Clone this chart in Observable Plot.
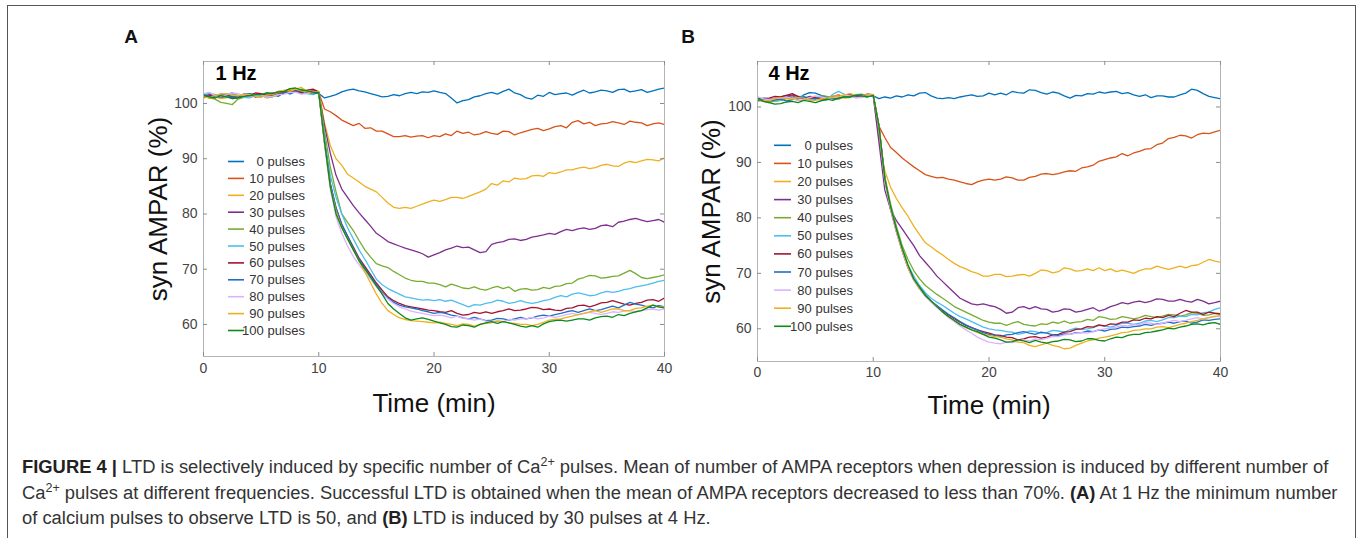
<!DOCTYPE html>
<html><head><meta charset="utf-8">
<script src="https://cdn.jsdelivr.net/npm/d3@7"></script>
<script src="https://cdn.jsdelivr.net/npm/@observablehq/plot@0.6"></script>
<style>
body{margin:0;background:#fff;font-family:"Liberation Sans",Arial,Helvetica,sans-serif;}
#fig{position:relative;width:1357px;height:538px;overflow:hidden;background:#fff;}
#border{position:absolute;left:7px;top:5px;width:1349px;height:600px;border:1.5px solid #555;box-sizing:border-box;}
.panel{position:absolute;}
.plab{position:absolute;font-weight:bold;font-size:19px;color:#111;transform:translate(-50%,-50%);}
#overlay{position:absolute;left:0;top:0;pointer-events:none;}
.cap{position:absolute;left:22px;white-space:nowrap;color:#333;font-size:16px;line-height:20px;}
.cap sup{font-size:68%;vertical-align:baseline;position:relative;top:-0.6em;line-height:0;}
.cap b{color:#222;}
</style>
</head><body>
<div id="fig">
  <div id="border"></div>
  <div class="plab" style="left:131px;top:37px">A</div>
  <div class="plab" style="left:688px;top:37px">B</div>
  <div id="pa" class="panel" style="left:110px;top:40px"></div>
  <div id="pb" class="panel" style="left:664px;top:40px"></div>
  <svg id="overlay" width="1357" height="538"></svg>
  <div class="cap" id="cap1" style="top:457px"><b>FIGURE 4 |</b> LTD is selectively induced by specific number of Ca<sup>2+</sup> pulses. Mean of number of AMPA receptors when depression is induced by different number of</div>
  <div class="cap" id="cap2" style="top:483px">Ca<sup>2+</sup> pulses at different frequencies. Successful LTD is obtained when the mean of AMPA receptors decreased to less than 70%. <b>(A)</b> At 1 Hz the minimum number</div>
  <div class="cap" id="cap3" style="top:508px">of calcium pulses to observe LTD is 50, and <b>(B)</b> LTD is induced by 30 pulses at 4 Hz.</div>
</div>
<script>
// ---------- data ----------
const TIME = [0,0.5,1,1.5,2,2.5,3,3.5,4,4.5,5,5.5,6,6.5,7,7.5,8,8.5,9,9.5,10,
  10.5,11,11.5,12,12.5,13,13.5,14,14.5,15,15.5,16,16.5,17,17.5,18,18.5,19,19.5,20,
  20.5,21,21.5,22,22.5,23,23.5,24,24.5,25,25.5,26,26.5,27,27.5,28,28.5,29,29.5,30,
  30.5,31,31.5,32,32.5,33,33.5,34,34.5,35,35.5,36,36.5,37,37.5,38,38.5,39,39.5,40];
const LABELS = ["0 pulses","10 pulses","20 pulses","30 pulses","40 pulses","50 pulses","60 pulses","70 pulses","80 pulses","90 pulses","100 pulses"];
const COLORS = ["#0072BD","#D95319","#EDB120","#7E2F8E","#77AC30","#4DBEEE","#A2142F","#1f6fc5","#dcb2ff","#EDB120","#0a8a1a"];
const X_TICKS = [0,10,20,30,40];
const Y_TICKS = [60,70,80,90,100];

// Panel A (1 Hz)
const A_0 = [101.5,101.8,101.2,101.0,101.6,101.9,101.3,101.6,101.8,101.5,101.4,101.9,101.6,101.3,102.0,102.4,102.3,101.8,102.1,101.9,101.8,
  101.0,101.3,101.6,102.1,102.4,102.6,102.3,102.1,101.8,101.5,101.2,101.3,101.6,101.4,101.8,102.0,101.8,102.1,102.0,102.3,
  102.0,101.8,101.0,100.1,100.5,100.7,101.2,101.4,101.8,102.0,101.7,102.2,102.6,101.9,101.6,101.0,100.8,101.5,101.3,102.0,
  101.6,101.8,101.9,101.5,102.0,102.4,101.9,102.1,102.4,102.3,102.0,102.5,102.6,102.1,102.3,102.5,102.0,102.3,102.6,102.8];
const A_10 = [101.3,101.0,101.0,101.6,101.5,101.1,101.2,101.7,101.6,101.2,101.5,101.9,101.8,102.2,102.3,102.6,102.5,102.1,102.0,102.4,102.0,
  99.0,98.5,97.8,97.0,96.5,96.0,96.4,95.5,95.6,95.0,95.0,94.5,94.0,94.0,94.2,93.9,94.1,94.2,93.8,94.2,
  94.0,94.5,94.2,95.0,94.6,94.8,94.3,94.5,94.9,94.6,94.4,95.0,94.9,94.3,94.7,95.0,95.3,95.5,95.1,95.4,
  95.8,96.0,95.6,96.6,96.9,96.3,96.6,96.0,96.3,96.4,96.7,96.5,96.2,96.8,96.6,96.5,96.0,96.3,96.5,96.2];
const A_20 = [101.6,101.3,101.2,100.9,101.0,101.5,101.4,101.1,101.2,101.8,101.7,101.4,101.6,102.2,102.1,102.5,102.6,102.9,102.2,102.0,102.1,
  96.5,92.4,90.0,88.8,87.2,86.5,85.8,85.0,84.5,84.0,83.0,82.0,81.2,81.0,81.2,81.0,81.4,81.8,82.2,82.5,
  82.3,82.6,83.0,83.0,82.8,83.2,83.6,84.0,84.5,85.5,85.2,86.0,85.8,86.5,86.3,86.4,86.9,87.0,86.8,87.5,
  87.3,87.6,88.0,88.0,88.3,88.5,88.2,88.4,88.8,89.0,88.7,88.6,89.2,89.5,89.3,89.6,89.9,89.8,89.6,90.2];
const A_30 = [101.2,101.6,101.5,101.1,101.3,100.9,101.0,101.4,101.5,101.2,101.3,101.7,101.9,101.6,102.2,102.0,102.4,102.1,101.9,102.2,101.9,
  96.0,91.0,87.0,84.5,83.0,81.5,80.2,79.0,77.8,76.5,75.8,75.0,74.6,74.2,73.8,73.5,73.2,72.8,72.2,72.6,
  73.0,73.5,73.8,74.2,73.9,74.0,73.5,73.0,73.2,74.5,74.8,75.0,75.4,75.5,75.2,75.4,75.8,76.0,76.2,76.5,
  76.3,76.8,77.2,77.0,77.3,77.5,77.2,77.4,77.9,78.0,77.7,78.5,78.7,79.0,79.2,78.9,78.6,78.8,79.0,78.5];
const A_40 = [101.5,101.0,100.8,100.2,100.0,99.8,100.8,101.1,101.2,101.6,101.5,101.0,101.2,101.6,101.8,102.2,102.2,102.6,102.3,101.9,102.0,
  95.0,88.5,84.0,80.0,78.5,77.0,75.2,73.5,72.2,71.0,70.6,70.3,69.6,69.0,68.4,68.0,67.8,67.8,67.5,67.5,
  67.2,66.8,67.3,67.0,66.6,66.5,66.8,66.4,66.2,66.6,66.9,66.5,66.8,66.0,66.4,66.5,66.2,66.3,66.7,66.5,
  66.9,67.0,67.4,67.5,68.2,68.5,68.9,68.8,68.4,68.5,68.7,68.8,69.3,69.8,69.2,68.5,68.3,68.5,68.7,69.0];
const A_50 = [101.4,101.9,101.6,101.3,101.2,101.6,101.5,101.1,101.0,101.4,101.6,101.9,101.4,101.8,102.0,101.7,102.1,102.3,101.8,101.6,102.0,
  94.0,87.0,83.0,80.0,77.5,75.5,73.5,71.8,70.0,68.2,67.2,66.5,66.0,65.5,65.0,64.8,64.6,64.4,64.5,64.3,
  64.5,64.2,64.4,64.0,63.6,63.2,63.6,63.5,63.8,64.0,64.4,64.2,63.8,64.0,64.3,64.0,63.8,64.0,64.3,64.5,
  64.9,65.2,65.0,65.5,65.7,65.5,65.2,65.3,65.7,66.0,65.8,66.0,66.3,66.5,66.8,67.0,67.2,67.5,67.8,68.0];
const A_60 = [101.0,101.4,101.3,101.7,101.6,101.2,101.2,101.6,101.5,101.9,101.8,101.4,101.5,101.9,101.9,102.2,102.3,102.0,102.4,102.6,102.1,
  93.0,85.5,81.0,78.0,76.0,74.0,72.0,70.5,69.0,67.5,66.2,65.0,64.3,63.8,63.4,63.2,63.0,62.8,62.6,62.5,
  62.3,62.2,62.5,62.0,61.7,61.8,62.2,62.0,62.3,62.0,62.3,62.5,62.8,62.5,62.6,62.8,63.1,63.0,62.7,62.8,
  62.6,62.5,62.9,63.0,63.4,63.5,63.2,63.5,63.9,64.0,64.3,64.0,63.7,63.5,63.8,64.0,64.4,64.5,64.2,64.8];
const A_70 = [101.6,101.3,101.2,101.6,101.5,101.1,101.3,101.7,101.6,101.3,101.2,101.5,101.7,102.1,102.0,101.8,102.2,102.4,102.0,101.8,101.9,
  93.0,85.5,81.2,78.2,76.0,73.8,71.8,70.2,68.7,67.2,65.8,64.8,64.0,63.5,63.2,63.0,62.8,62.5,62.3,62.0,
  62.2,62.0,61.7,61.5,61.2,61.0,61.3,61.0,60.7,60.8,61.1,61.0,60.8,61.0,61.3,61.0,61.2,61.5,61.7,61.5,
  61.8,62.0,62.3,62.5,62.2,62.5,62.8,62.5,62.7,63.0,63.3,63.0,63.5,64.0,63.7,63.5,63.2,63.0,63.4,63.2];
const A_80 = [101.8,102.0,101.4,101.2,101.6,101.9,101.8,101.4,101.2,101.6,101.5,101.1,101.3,101.6,101.7,102.0,102.0,101.7,101.8,102.1,102.0,
  92.5,84.5,79.5,76.5,74.2,72.3,70.8,69.5,68.2,66.8,65.6,64.6,63.8,63.2,62.8,62.4,62.2,62.0,61.8,61.6,
  61.7,61.5,61.2,61.5,61.1,61.0,60.8,61.0,60.6,60.5,60.7,60.5,60.9,60.8,61.0,61.0,61.3,61.0,61.2,61.5,
  61.3,61.5,61.8,62.0,61.8,62.0,62.2,62.0,61.8,62.0,62.3,62.2,62.4,62.5,62.3,62.5,62.7,62.8,62.6,62.8];
const A_90 = [101.2,101.0,101.5,101.7,101.8,101.5,101.4,101.7,101.6,101.3,101.2,101.5,101.6,102.0,102.4,102.2,102.6,102.3,102.1,101.9,102.2,
  93.0,85.0,80.5,77.5,75.5,73.5,71.5,69.5,67.5,65.5,63.8,62.5,61.8,61.2,60.9,60.7,60.6,60.5,60.4,60.3,
  60.4,60.2,60.0,59.8,60.1,60.0,59.7,60.0,60.2,60.3,60.6,60.5,60.3,60.2,60.0,60.0,59.8,60.0,60.4,60.8,
  60.9,61.0,61.3,61.5,61.8,62.0,62.3,62.5,62.2,62.5,62.8,62.8,62.5,62.5,62.9,63.0,63.3,63.5,63.2,63.2];
const A_100 = [101.5,101.2,101.0,101.4,101.2,100.9,101.0,101.3,101.4,101.6,101.6,101.9,101.8,102.1,102.2,102.7,102.8,102.4,102.3,102.0,102.0,
  93.0,85.0,80.0,77.5,75.5,73.5,71.5,70.0,68.5,67.0,65.5,63.8,62.8,62.0,61.2,60.8,61.0,61.2,60.9,60.6,
  60.3,60.0,59.6,59.5,59.9,59.8,59.5,60.0,60.3,60.5,60.2,60.5,60.3,60.0,59.7,59.5,59.8,59.5,60.1,60.5,
  60.7,60.8,60.6,60.8,61.0,61.0,60.8,61.2,61.4,61.5,61.3,61.8,61.6,62.0,62.3,62.5,63.0,63.5,63.2,63.0];

// Panel B (4 Hz)
const B_0 = [101.2,101.6,101.5,101.3,101.8,102.1,101.6,101.4,102.2,102.6,102.5,102.1,101.8,101.5,101.6,101.9,102.0,101.7,101.8,102.1,102.0,
  101.5,101.8,101.6,102.0,101.8,102.2,102.0,102.5,102.6,102.0,101.6,101.5,101.7,101.5,101.8,102.0,102.2,101.9,102.0,102.5,
  102.2,102.5,102.2,102.8,102.6,102.5,103.1,103.0,102.6,102.3,102.7,102.5,102.0,101.6,102.1,102.0,102.4,102.3,102.7,102.5,
  102.7,102.8,102.4,102.6,102.2,101.9,102.2,101.7,102.0,102.0,101.8,101.8,102.2,102.5,103.2,103.0,102.4,101.9,101.7,101.5];
const B_10 = [101.5,101.1,101.2,101.5,101.6,101.9,102.0,101.6,101.5,101.9,101.8,101.4,101.5,101.9,102.2,101.8,101.8,102.1,102.0,102.3,102.2,
  96.5,94.5,92.7,91.8,90.8,90.0,89.2,88.5,87.8,87.5,87.2,87.3,87.0,86.8,86.5,86.2,86.0,86.5,86.8,87.0,
  86.8,87.0,87.4,87.2,86.8,86.8,87.3,87.5,87.9,88.0,87.8,88.0,88.3,88.5,88.4,89.0,89.2,89.5,90.2,90.5,
  90.8,91.0,91.6,91.2,91.7,92.0,92.4,92.5,93.2,93.5,94.3,94.5,94.9,94.8,94.4,95.0,95.3,95.2,95.5,95.8];
const B_20 = [101.0,101.3,101.4,101.0,101.2,101.6,101.5,101.8,101.8,101.4,101.3,101.7,101.6,102.0,102.0,101.6,101.7,102.2,102.1,101.9,102.2,
  94.0,88.5,85.5,83.5,81.8,80.3,78.5,77.0,75.5,74.8,74.0,73.3,72.5,71.8,71.2,70.8,70.3,70.0,69.5,69.5,
  69.8,69.8,69.4,69.5,69.7,69.8,69.5,70.0,70.6,70.5,70.1,70.3,71.0,70.8,70.4,70.5,70.8,70.5,71.0,70.5,
  70.8,70.3,70.6,70.3,70.0,70.5,70.8,70.8,71.3,71.0,70.7,71.0,71.3,71.0,71.4,71.5,72.0,72.5,72.2,72.0];
const B_30 = [101.6,101.3,101.2,101.6,101.5,101.9,102.2,101.8,101.6,101.3,101.4,101.8,101.8,101.6,101.5,101.9,102.2,101.9,101.8,102.1,102.0,
  93.5,85.0,81.5,79.5,78.0,76.5,75.0,73.2,72.0,70.8,69.5,68.5,67.5,66.5,65.5,65.0,64.5,64.3,64.5,64.2,
  64.0,63.5,62.8,63.0,63.8,64.0,63.6,64.0,63.6,63.5,63.0,63.2,63.6,63.5,63.0,63.2,63.5,63.8,63.2,63.5,
  64.0,64.3,64.7,64.5,64.8,65.0,64.7,65.0,65.4,65.3,65.0,65.0,65.3,65.0,64.8,65.3,65.0,64.5,64.7,65.0];
const B_40 = [101.3,101.0,100.8,101.1,101.2,101.5,101.5,101.2,101.2,101.6,101.6,102.0,101.9,101.5,101.4,101.8,101.8,102.2,102.3,101.9,102.1,
  96.0,87.5,82.5,78.5,75.0,72.5,70.5,69.0,67.8,67.0,66.2,65.5,64.8,64.0,63.5,63.0,62.5,62.0,61.5,61.2,
  61.0,61.0,60.6,61.0,61.3,60.8,60.6,60.5,60.9,60.8,61.2,61.0,61.4,61.0,61.2,61.3,61.7,61.5,62.2,62.0,
  61.7,61.8,62.2,62.0,61.8,62.0,62.4,62.2,62.0,62.3,62.6,62.5,62.3,62.5,62.9,62.8,62.4,62.5,62.8,62.6];
const B_50 = [101.0,101.4,101.5,101.1,101.2,101.7,101.6,101.9,101.9,101.4,101.5,101.2,101.2,102.3,102.8,102.3,101.8,102.1,102.0,101.8,102.2,
  96.0,87.0,82.0,78.0,74.5,71.5,69.5,67.8,66.5,65.5,64.8,64.2,63.5,62.8,62.2,61.8,61.3,60.8,60.3,60.0,
  59.8,59.7,59.5,59.4,59.0,59.2,59.6,59.5,59.2,59.3,59.7,59.6,59.4,59.8,60.1,59.9,60.0,60.2,60.6,60.5,
  60.3,60.6,61.0,61.0,60.8,61.0,61.4,61.5,61.3,61.6,62.0,62.0,62.3,62.2,62.6,62.5,62.9,63.0,63.5,63.8];
const B_60 = [101.2,101.5,101.6,101.9,101.8,102.1,102.4,101.9,101.5,101.8,101.7,101.3,101.4,101.8,101.9,102.1,102.3,102.0,102.0,102.3,102.1,
  96.5,87.0,81.5,77.5,74.0,71.0,68.8,67.2,66.0,65.0,64.0,63.2,62.5,61.8,61.2,60.6,60.2,59.8,59.5,59.2,
  58.9,58.8,58.5,58.4,58.0,58.2,58.5,58.6,58.3,58.5,58.9,59.0,59.4,59.5,59.9,60.0,60.4,60.3,60.7,60.5,
  60.9,60.8,61.2,61.2,61.6,61.5,61.9,61.8,62.2,62.0,62.4,62.2,62.8,63.3,63.0,63.0,62.6,63.0,62.8,62.7];
const B_70 = [101.5,101.2,101.0,101.3,101.4,101.1,101.3,101.7,101.8,101.6,101.5,101.8,101.7,101.5,101.6,102.0,101.9,102.1,102.2,101.9,102.0,
  96.5,87.0,81.8,77.8,74.2,71.2,69.0,67.5,66.2,65.0,64.2,63.4,62.6,62.0,61.3,60.7,60.2,59.8,59.3,59.0,
  58.8,58.6,58.9,59.0,59.3,59.5,59.2,59.0,59.4,59.2,58.9,58.8,59.1,59.0,59.3,59.3,59.6,59.5,59.8,59.6,
  59.9,60.0,60.3,60.2,60.4,60.5,60.8,60.6,60.9,61.0,61.2,61.0,61.3,61.4,61.0,61.2,61.6,61.5,61.7,61.8];
const B_80 = [101.8,101.5,101.3,101.5,101.6,101.8,101.5,101.2,101.3,101.7,102.0,101.8,101.6,101.7,101.8,102.1,102.0,101.7,101.7,102.0,102.1,
  96.5,86.5,81.5,77.5,74.0,71.0,68.8,67.2,65.8,64.8,63.8,63.0,62.0,61.3,60.5,59.8,59.2,58.5,58.0,57.6,
  57.4,57.3,57.6,57.5,57.8,58.0,57.8,58.2,58.0,58.3,58.6,58.6,58.9,59.0,59.2,59.3,59.2,59.5,59.8,60.0,
  60.1,60.3,60.6,60.5,60.7,60.8,61.1,61.0,60.8,61.0,61.3,61.5,61.3,61.5,61.8,62.0,61.8,62.0,62.3,62.2];
const B_90 = [101.4,101.2,101.1,101.5,101.7,101.5,101.4,101.7,101.6,101.3,101.2,101.4,101.5,101.8,101.9,102.2,102.4,102.1,102.0,102.3,102.2,
  96.5,87.0,82.0,77.8,74.2,71.2,69.0,67.3,66.0,65.0,64.0,63.0,62.2,61.5,60.8,60.2,59.8,59.3,59.0,58.8,
  58.6,58.5,58.2,58.0,57.6,57.5,57.0,56.8,57.1,57.4,57.0,56.8,56.4,56.5,57.0,57.4,57.8,58.0,58.3,58.5,
  58.7,59.0,59.3,59.4,59.7,59.8,60.0,60.0,60.3,60.4,60.2,60.5,60.8,61.0,61.3,61.5,61.8,62.0,62.2,62.4];
const B_100 = [101.6,101.0,100.8,100.5,100.6,100.9,101.0,100.8,101.2,101.0,100.8,101.1,101.4,101.2,101.6,101.8,101.8,102.1,102.0,101.8,102.1,
  96.5,87.0,82.0,78.0,74.5,71.5,69.0,67.5,66.0,65.0,64.0,63.0,62.2,61.5,60.8,60.3,59.8,59.5,59.0,58.5,
  58.3,58.0,57.6,57.7,58.0,57.8,57.5,57.9,57.6,57.4,57.7,57.8,58.1,58.0,57.7,57.8,58.2,58.2,57.9,57.8,
  58.2,58.5,58.4,58.8,59.0,59.0,59.3,59.4,59.6,59.8,60.1,60.0,60.3,60.5,60.8,60.9,60.7,61.0,61.1,60.8];

const SERIES_A = [A_0,A_10,A_20,A_30,A_40,A_50,A_60,A_70,A_80,A_90,A_100];
const SERIES_B = [B_0,B_10,B_20,B_30,B_40,B_50,B_60,B_70,B_80,B_90,B_100];

// ---------- drawing ----------
const FONT = '"Liberation Sans", Arial, Helvetica, sans-serif';
function panel(series, o) {
  const W = o.width, H = o.height;
  const mL = 93, mR = 10, mT = 21, mB = H - o.frameBottom;
  const innerW = W - mL - mR, innerH = H - mT - mB;
  const data = [];
  series.forEach((s, i) => s.forEach((v, j) => data.push({t: TIME[j], v, k: LABELS[i]})));
  const tickStroke = "#8c8c8c";
  return Plot.plot({
    width: W, height: H, marginLeft: mL, marginRight: mR, marginTop: mT, marginBottom: mB,
    style: {fontFamily: FONT, background: "transparent", color: "#444", overflow: "visible"},
    x: {domain: [0, 40]},
    y: {domain: o.ydomain},
    color: {domain: LABELS, range: COLORS},
    marks: [
      Plot.line(data, {x: "t", y: "v", z: "k", stroke: "k", strokeWidth: 1.3, clip: true}),
      Plot.frame({stroke: "#b4b4b4"}),
      Plot.tickX(X_TICKS, {x: d => d, stroke: tickStroke, insetTop: innerH - 4}),
      Plot.tickX(X_TICKS, {x: d => d, stroke: tickStroke, insetBottom: innerH - 4}),
      Plot.tickY(Y_TICKS, {y: d => d, stroke: tickStroke, insetRight: innerW - 4}),
      Plot.tickY(Y_TICKS, {y: d => d, stroke: tickStroke, insetLeft: innerW - 4}),
      Plot.axisX({ticks: X_TICKS, tickSize: 0, tickPadding: o.xPad, fontSize: 14, label: null, color: "#444"}),
      Plot.axisY({ticks: Y_TICKS, tickSize: 0, tickPadding: 6, fontSize: 14, label: null, color: "#444"}),
      Plot.text([o.title], {frameAnchor: "top-left", dx: o.titleDx, dy: 4, fontSize: 20, fontWeight: "bold", fill: "#000", lineAnchor: "top"}),
      Plot.text(["Time (min)"], {frameAnchor: "bottom", dy: o.xlabDy, fontSize: 26, fill: "#111", lineAnchor: "middle"}),
      Plot.text(["syn AMPAR (%)"], {frameAnchor: "left", dx: o.ylabDx, rotate: -90, fontSize: 26, fill: "#111", textAnchor: "middle", lineAnchor: "middle"})
    ]
  });
}

document.getElementById("pa").appendChild(panel(SERIES_A, {
  width: 564, height: 385, frameBottom: 316, ydomain: [54.2, 107.6],
  title: "1 Hz", titleDx: 12, xPad: 7, xlabDy: 47, ylabDx: -45
}));
document.getElementById("pb").appendChild(panel(SERIES_B, {
  width: 566, height: 390, frameBottom: 321, ydomain: [54.1, 108.2],
  title: "4 Hz", titleDx: 11, xPad: 6, xlabDy: 44, ylabDx: -46
}));

// legends (SVG overlay)
const ov = d3.select("#overlay");
function legend(y0, step, x1, x2, xText) {
  const g = ov.append("g").attr("font-family", FONT).attr("font-size", 13).attr("fill", "#333");
  LABELS.forEach((lab, i) => {
    const y = y0 + i * step;
    g.append("line").attr("x1", x1).attr("x2", x2).attr("y1", y).attr("y2", y)
      .attr("stroke", COLORS[i]).attr("stroke-width", 1.6);
    g.append("text").attr("x", xText).attr("y", y).attr("dy", "0.35em")
      .attr("text-anchor", "end").text(lab);
  });
}
legend(161.5, 16.9, 228, 244, 305);
legend(145.3, 18.1, 774, 791, 853);

// fit caption font so the first line spans the same width as the reference
(function(){
  const c1 = document.getElementById("cap1");
  const w = c1.getBoundingClientRect().width;
  const fs = 16 * 1308 / w;
  document.querySelectorAll(".cap").forEach(c => c.style.fontSize = fs + "px");
})();
</script>
</body></html>
